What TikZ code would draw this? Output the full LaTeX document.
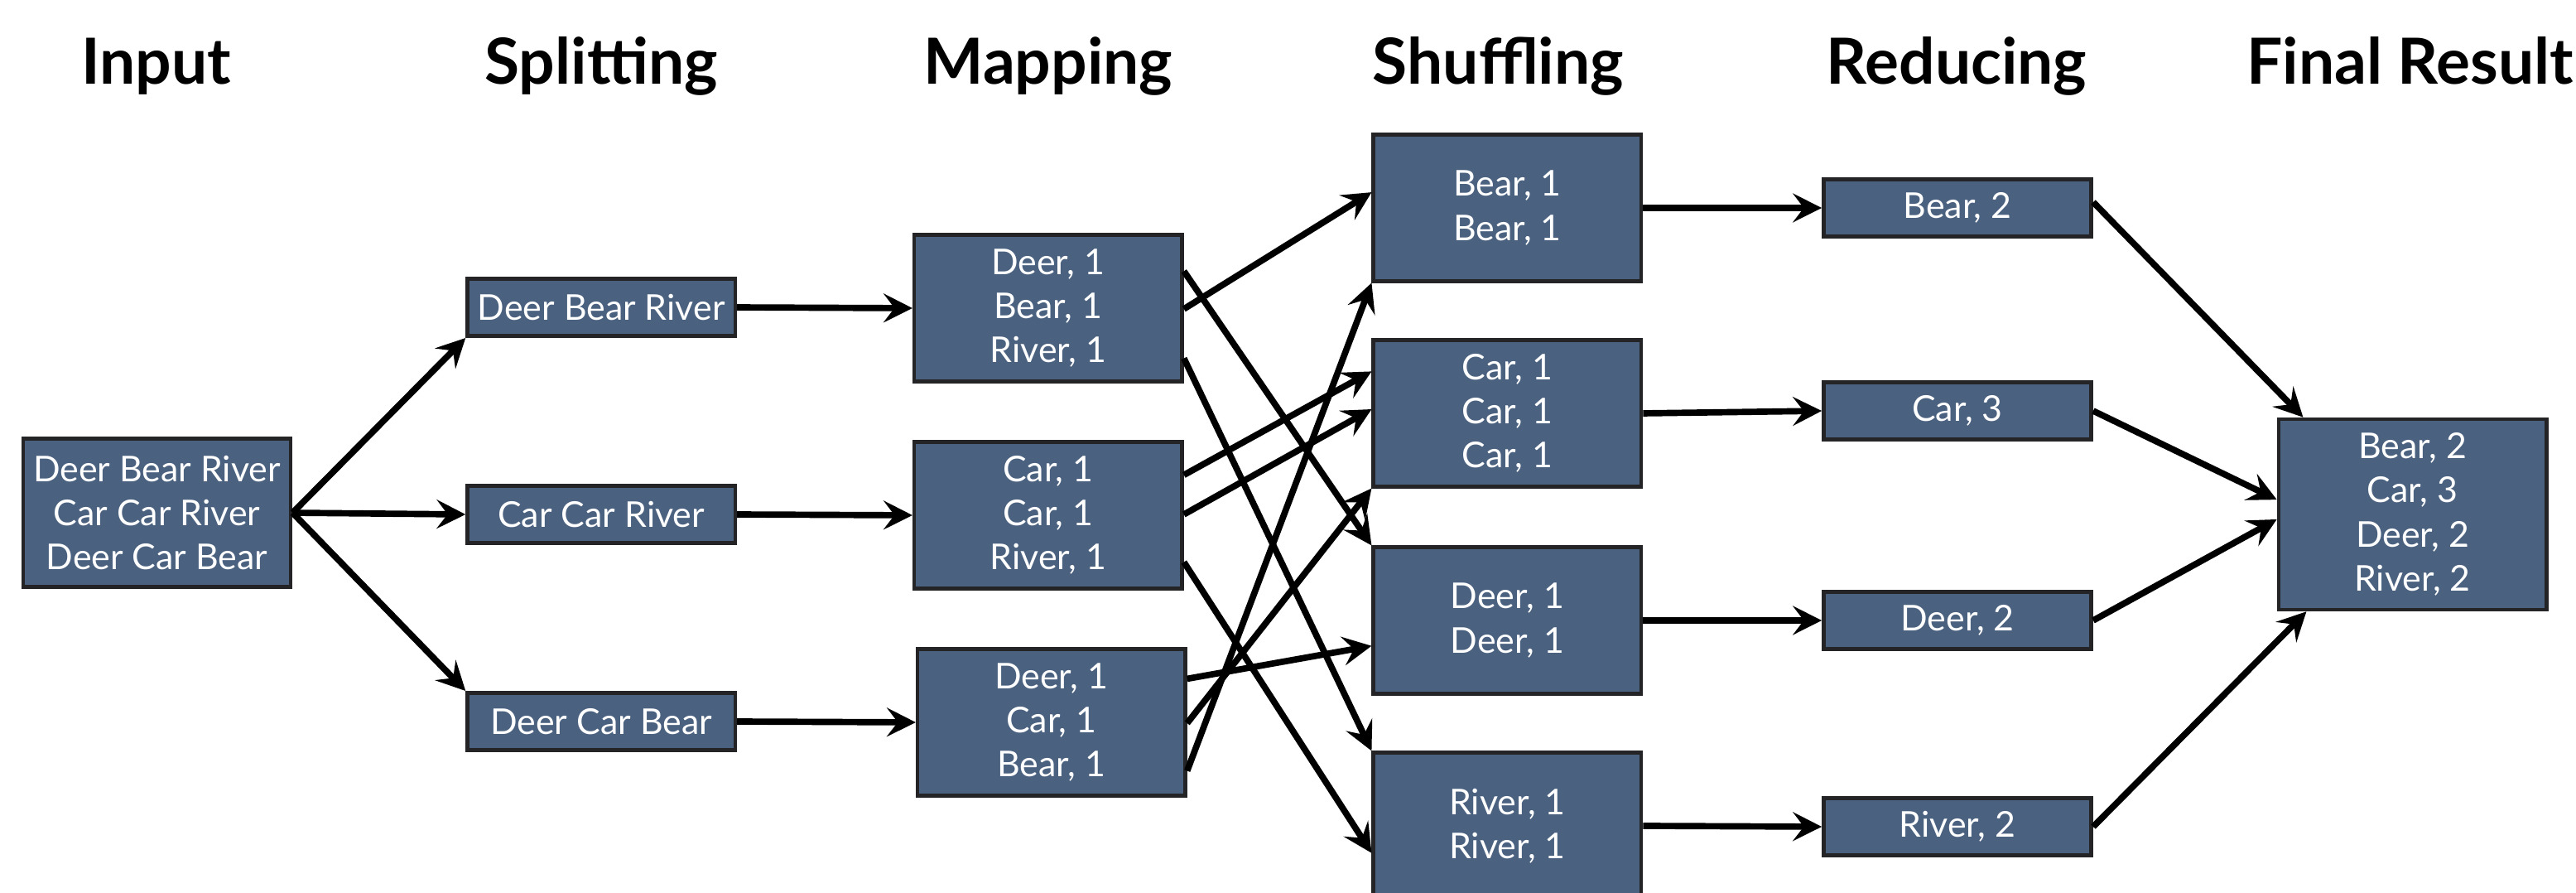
\documentclass[tikz,border=0pt]{standalone}
\usepackage{fontspec}
\setmainfont{Lato}
\usetikzlibrary{arrows.meta,calc}
\definecolor{slate}{RGB}{74,97,128}
\definecolor{rim}{RGB}{36,36,38}
\begin{document}
\begin{tikzpicture}[x=0.02cm,y=-0.02cm,
  box/.style={draw=rim, line width=1.3pt, fill=slate, text=white, inner sep=0pt,
    align=center, minimum width=3.26cm, font=\fontsize{12.3}{15.3}\selectfont},
  tallbox/.style={box, minimum height=1.78cm},
  flatbox/.style={box, minimum height=0.70cm},
  head/.style={anchor=base, font=\fontsize{22}{26}\selectfont\bfseries},
  arr/.style={-{Stealth[length=10pt,width=10pt,inset=3.8pt]}, line width=2.2pt}]
\clip (0,0) rectangle (1568,543);

% column titles
\node[head] (h1) at (95,51) {Input};
\node[head] (h2) at (366,51) {Splitting};
\node[head] (h3) at (638,51) {Mapping};
\node[head] (h4) at (912,51) {Shuffling};
\node[head] (h5) at (1191,51) {Reducing};
\node[head] (h6) at (1467,51) {Final Result};

% input
\node[box, minimum height=1.8cm] (in) at (95.5,312) {Deer Bear River\\Car Car River\\Deer Car Bear};

% splitting
\node[flatbox] (s1) at (366,187) {Deer Bear River};
\node[flatbox] (s2) at (366,313) {Car Car River};
\node[flatbox] (s3) at (366,439) {Deer Car Bear};

% mapping
\node[tallbox] (m1) at (638,187.5) {Deer, 1\\Bear, 1\\River, 1};
\node[tallbox] (m2) at (638,313.5) {Car, 1\\Car, 1\\River, 1};
\node[tallbox] (m3) at (640,439.5) {Deer, 1\\Car, 1\\Bear, 1};

% shuffling
\node[tallbox] (f1) at (917.5,126.5) {Bear, 1\\Bear, 1};
\node[tallbox] (f2) at (917.5,251.5) {Car, 1\\Car, 1\\Car, 1};
\node[tallbox] (f3) at (917.5,377.5) {Deer, 1\\Deer, 1};
\node[tallbox] (f4) at (917.5,502.5) {River, 1\\River, 1};

% reducing
\node[flatbox] (r1) at (1191.5,126.5) {Bear, 2};
\node[flatbox] (r2) at (1191.5,250) {Car, 3};
\node[flatbox] (r3) at (1191.5,377.5) {Deer, 2};
\node[flatbox] (r4) at (1191.5,503) {River, 2};

% final result
\node[box, minimum height=2.32cm] (fin) at (1468.5,313) {Bear, 2\\Car, 3\\Deer, 2\\River, 2};

% input -> splitting
\draw[arr] (in.east) -- (s1.south west);
\draw[arr] (in.east) -- (s2.west);
\draw[arr] (in.east) -- (s3.north west);

% splitting -> mapping
\draw[arr] (s1.east) -- (m1.west);
\draw[arr] (s2.east) -- (m2.west);
\draw[arr] (s3.east) -- (m3.west);

% mapping -> shuffling
\draw[arr] ($(m1.east)+(0,-22.5)$) -- (f3.north west);
\draw[arr] ($(m1.east)+(0,0.5)$) -- ($(f1.west)+(0,-9.5)$);
\draw[arr] ($(m1.east)+(0,30.5)$) -- (f4.north west);
\draw[arr] ($(m2.east)+(0,-24.5)$) -- ($(f2.west)+(0,-25.5)$);
\draw[arr] ($(m2.east)+(0,-0.5)$) -- ($(f2.west)+(0,-2.5)$);
\draw[arr] ($(m2.east)+(0,28.5)$) -- ($(f4.west)+(0,16.5)$);
\draw[arr] ($(m3.east)+(0,-26.5)$) -- ($(f3.west)+(0,15.5)$);
\draw[arr] ($(m3.east)+(0,0.5)$) -- (f2.south west);
\draw[arr] ($(m3.east)+(0,29.5)$) -- (f1.south west);

% shuffling -> reducing
\draw[arr] (f1.east) -- (r1.west);
\draw[arr] (f2.east) -- (r2.west);
\draw[arr] (f3.east) -- (r3.west);
\draw[arr] (f4.east) -- (r4.west);

% reducing -> final result
\draw[arr] ($(r1.east)+(0,-3.5)$) -- ($(fin.north west)+(16,0)$);
\draw[arr] (r2.east) -- ($(fin.west)+(0,-9)$);
\draw[arr] (r3.east) -- ($(fin.west)+(0,3)$);
\draw[arr] (r4.east) -- ($(fin.south west)+(18,0)$);
\end{tikzpicture}
\end{document}
